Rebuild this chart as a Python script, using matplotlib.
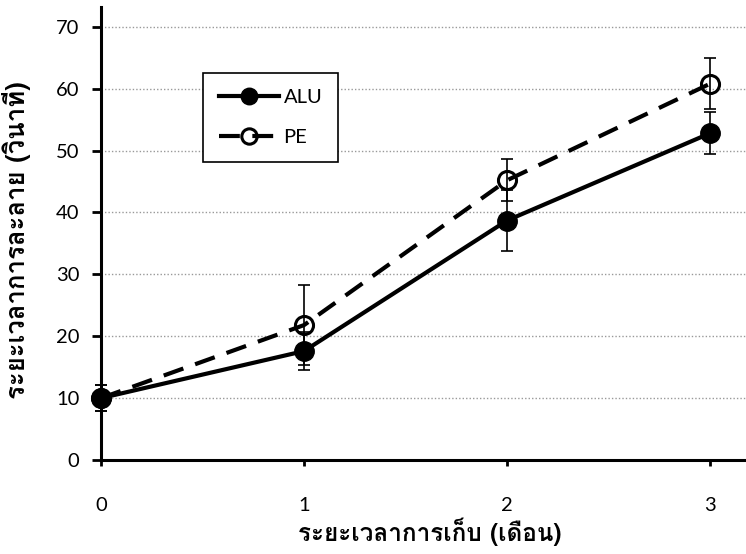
import matplotlib
matplotlib.use('Agg')
import matplotlib.pyplot as plt

# storage time (months)
months = [0, 1, 2, 3]

# dissolving time (seconds), mean and error
alu_mean = [10.0, 17.6, 38.7, 52.8]
alu_err = [2.1, 3.1, 5.0, 3.4]
pe_mean = [10.0, 21.8, 45.2, 60.8]
pe_err = [2.1, 6.4, 3.4, 4.1]

y_ticks = [0, 10, 20, 30, 40, 50, 60, 70]
x_label = 'ระยะเวลาการเก็บ (เดือน)'
y_label = 'ระยะเวลาการละลาย (วินาที)'

TICK_FONT = ['Lato', 'DejaVu Sans']
THAI_FONT = ['Loma', 'DejaVu Sans']


def draw():
    fig = plt.figure(figsize=(7.46, 5.54), dpi=100)
    ax = fig.add_axes([101 / 746, 1 - 460 / 554, 1 - 101 / 746, 453 / 554])

    err_style = dict(fmt='none', ecolor='black', elinewidth=1.2, capsize=4,
                     capthick=1.2, zorder=2, clip_on=False)
    ax.errorbar(months, alu_mean, yerr=alu_err, **err_style)
    ax.errorbar(months, pe_mean, yerr=pe_err, **err_style)

    ax.plot(months, alu_mean, color='black', lw=3, marker='o', ms=14,
            mfc='black', mec='black', label='ALU', zorder=3, clip_on=False)
    ax.plot(months, pe_mean, color='black', lw=3, dashes=(5, 3), marker='o',
            ms=13, mfc='none', mec='black', mew=2.2, label='PE', zorder=3,
            clip_on=False)

    ax.set_xlim(0, 3.177)
    ax.set_ylim(0, 73.2)
    ax.set_xticks(months)
    ax.set_yticks(y_ticks)
    ax.yaxis.grid(True, linestyle=(0, (1, 1.5)), color='#999999', lw=1)
    ax.set_axisbelow(True)

    for side in ['right', 'top']:
        ax.spines[side].set_visible(False)
    for side in ['left', 'bottom']:
        ax.spines[side].set_linewidth(2.2)

    ax.tick_params(axis='y', direction='out', length=6.5, width=2, pad=9)
    ax.tick_params(axis='x', direction='out', length=4.5, width=2, pad=22)
    for lab in ax.get_xticklabels() + ax.get_yticklabels():
        lab.set_fontfamily(TICK_FONT)
        lab.set_fontsize(14.5)

    leg = ax.legend(loc='upper left', bbox_to_anchor=(0.158, 0.854),
                    borderaxespad=0, fancybox=False, edgecolor='black',
                    handlelength=3.0, borderpad=0.8, labelspacing=1.1,
                    handletextpad=0.2, markerscale=0.85,
                    prop={'family': TICK_FONT, 'size': 14.5})
    leg.get_frame().set_linewidth(1.2)
    leg.get_frame().set_alpha(1)

    fig.text(430 / 746, 1 - 532 / 554, x_label, ha='center', va='center',
             fontsize=17.5, fontweight='bold', family=THAI_FONT)
    fig.text(17 / 746, 1 - 240 / 554, y_label, ha='center', va='center',
             rotation=90, fontsize=18.5, fontweight='bold', family=THAI_FONT)

    fig.savefig('out.png', dpi=100)


if __name__ == '__main__':
    draw()
